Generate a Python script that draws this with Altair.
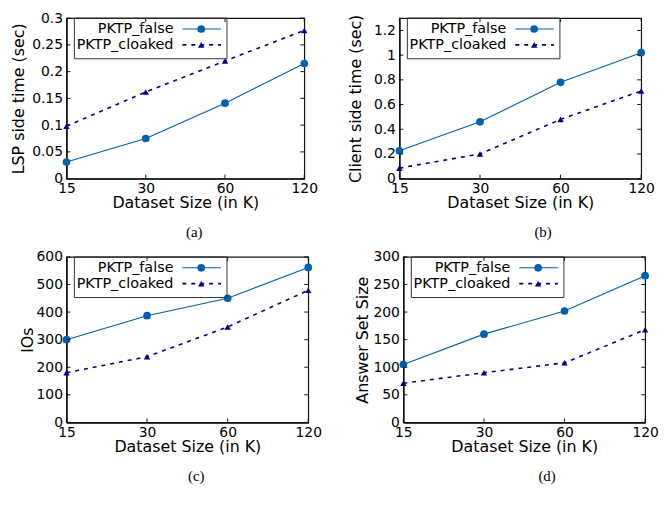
import altair as alt
import pandas as pd

# ---------------- data ----------------
sizes = [15, 30, 60, 120]
series_names = ["PKTP_false", "PKTP_cloaked"]

lsp_false = [0.031, 0.075, 0.141, 0.215]
lsp_cloaked = [0.098, 0.162, 0.220, 0.277]
client_false = [0.225, 0.46, 0.78, 1.02]
client_cloaked = [0.085, 0.20, 0.48, 0.71]
ios_false = [300, 387, 450, 562]
ios_cloaked = [180, 238, 346, 479]
ans_false = [105, 160, 202, 266]
ans_cloaked = [71, 90, 108, 168]

lsp_ticks = [0, 0.05, 0.1, 0.15, 0.2, 0.25, 0.3]
client_ticks = [0, 0.2, 0.4, 0.6, 0.8, 1.0, 1.2]
ios_ticks = [0, 100, 200, 300, 400, 500, 600]
ans_ticks = [0, 50, 100, 150, 200, 250, 300]

captions = ["(a)", "(b)", "(c)", "(d)"]
x_title = "Dataset Size (in K)"

C_FALSE = "#0060ad"
C_CLOAK = "#00008b"
FONT = "DejaVu Sans"
AXIS_COLOR = "#111111"


def panel(y_false, y_cloaked, y_title, y_max, y_ticks, w, h, caption, cap_x, title_pad):
    df = pd.DataFrame({
        "size": sizes * 2,
        "value": list(y_false) + list(y_cloaked),
        "series": [series_names[0]] * 4 + [series_names[1]] * 4,
    })
    xs = alt.Scale(type="log", base=2, domain=[sizes[0], sizes[-1]], nice=False)
    ys = alt.Scale(domain=[0, y_max], nice=False, zero=True)
    x_axis = alt.Axis(values=sizes, format="d", title=x_title, ticks=False,
                      grid=False, labelFlush=False, labelOverlap=False,
                      labelPadding=3, titlePadding=-1,
                      labelFont=FONT, titleFont=FONT, labelFontSize=14,
                      titleFontSize=16, titleFontWeight="normal",
                      labelColor="black", titleColor="black",
                      domainColor=AXIS_COLOR, domainWidth=1.5)
    y_axis = alt.Axis(values=y_ticks, title=y_title, ticks=False, grid=False,
                      labelPadding=4, titlePadding=title_pad, labelOverlap=False,
                      labelFlush=False, format="~f",
                      labelFont=FONT, titleFont=FONT, labelFontSize=14,
                      titleFontSize=16, titleFontWeight="normal",
                      labelColor="black", titleColor="black",
                      domainColor=AXIS_COLOR, domainWidth=1.5)

    def X(field):
        return alt.X(field, scale=xs, axis=x_axis)

    def Y(field):
        return alt.Y(field, scale=ys, axis=y_axis)

    base = alt.Chart(df)
    f = base.transform_filter(alt.datum.series == series_names[0])
    c = base.transform_filter(alt.datum.series == series_names[1])

    line_f = f.mark_line(color=C_FALSE, strokeWidth=1.1, clip=False).encode(
        x=X("size:Q"), y=Y("value:Q"))
    pts_f = f.mark_point(shape="circle", filled=True, opacity=1, size=60,
                         color=C_FALSE, clip=False).encode(
        x=X("size:Q"), y=Y("value:Q"))
    line_c = c.mark_line(color=C_CLOAK, strokeWidth=1.6, strokeDash=[4, 5],
                         clip=False).encode(
        x=X("size:Q"), y=Y("value:Q"))
    pts_c = c.mark_point(shape="triangle-up", filled=True, opacity=1, size=42,
                         color=C_CLOAK, clip=False).encode(
        x=X("size:Q"), y=Y("value:Q"))

    # inward ticks on all four sides
    ytk = alt.Chart(pd.DataFrame({"value": y_ticks}))
    xtk = alt.Chart(pd.DataFrame({"size": sizes}))
    tk_style = dict(color=AXIS_COLOR, strokeWidth=1)
    ytl = ytk.mark_rule(**tk_style).encode(
        y=Y("value:Q"), x=alt.value(0), x2=alt.value(4))
    ytr = ytk.mark_rule(**tk_style).encode(
        y=Y("value:Q"), x=alt.value(w - 4), x2=alt.value(w))
    xtb = xtk.mark_rule(**tk_style).encode(
        x=X("size:Q"), y=alt.value(h), y2=alt.value(h - 4))
    xtt = xtk.mark_rule(**tk_style).encode(
        x=X("size:Q"), y=alt.value(0), y2=alt.value(4))

    # legend (key box)
    one = pd.DataFrame({"k": [0]})
    box = alt.Chart(one).mark_rect(fill=None, stroke="#333333", strokeWidth=1).encode(
        x=alt.value(8), x2=alt.value(162), y=alt.value(0), y2=alt.value(41))
    t1 = alt.Chart(pd.DataFrame({"label": [series_names[0]]})).mark_text(
        align="right", baseline="middle", font=FONT, fontSize=14.5, color="black").encode(
        x=alt.value(108), y=alt.value(11), text="label:N")
    t2 = alt.Chart(pd.DataFrame({"label": [series_names[1]]})).mark_text(
        align="right", baseline="middle", font=FONT, fontSize=14.5, color="black").encode(
        x=alt.value(108), y=alt.value(27), text="label:N")
    l1 = alt.Chart(one).mark_rule(color=C_FALSE, strokeWidth=1.1).encode(
        x=alt.value(117), x2=alt.value(156), y=alt.value(11))
    p1 = alt.Chart(one).mark_point(shape="circle", filled=True, opacity=1, size=60,
                                   color=C_FALSE).encode(
        x=alt.value(136), y=alt.value(11))
    l2 = alt.Chart(one).mark_rule(color=C_CLOAK, strokeWidth=1.6, strokeDash=[4, 5]).encode(
        x=alt.value(117), x2=alt.value(156), y=alt.value(27))
    p2 = alt.Chart(one).mark_point(shape="triangle-up", filled=True, opacity=1, size=42,
                                   color=C_CLOAK).encode(
        x=alt.value(136), y=alt.value(27))

    cap = alt.Chart(pd.DataFrame({"label": [caption]})).mark_text(
        align="center", baseline="middle", font="Liberation Serif", fontSize=15,
        color="black").encode(
        x=alt.value(cap_x), y=alt.value(h + 54), text="label:N")

    return alt.layer(line_f, line_c, pts_f, pts_c, ytl, ytr, xtb, xtt,
                     box, t1, t2, l1, p1, l2, p2, cap).properties(width=w, height=h)


pa = panel(lsp_false, lsp_cloaked, "LSP side time (sec)", 0.3, lsp_ticks, 240, 162, captions[0], 129, 5)
pb = panel(client_false, client_cloaked, "Client side time (sec)", 1.3, client_ticks, 244, 162, captions[1], 145, 10)
pc = panel(ios_false, ios_cloaked, "IOs", 600, ios_ticks, 244, 167, captions[2], 131, 1)
pd_ = panel(ans_false, ans_cloaked, "Answer Set Size", 300, ans_ticks, 244, 167, captions[3], 145, 2)

row1 = alt.hconcat(pa, pb, spacing=29)
row2 = alt.hconcat(pc, pd_, spacing=32)

chart = alt.vconcat(row1, row2, spacing=8).properties(
    padding={"left": 2, "top": 0, "right": 0, "bottom": 0}
).configure_view(
    stroke=AXIS_COLOR, strokeWidth=1.2
)

chart.save("out.html", embed_options={"renderer": "svg", "actions": False})
